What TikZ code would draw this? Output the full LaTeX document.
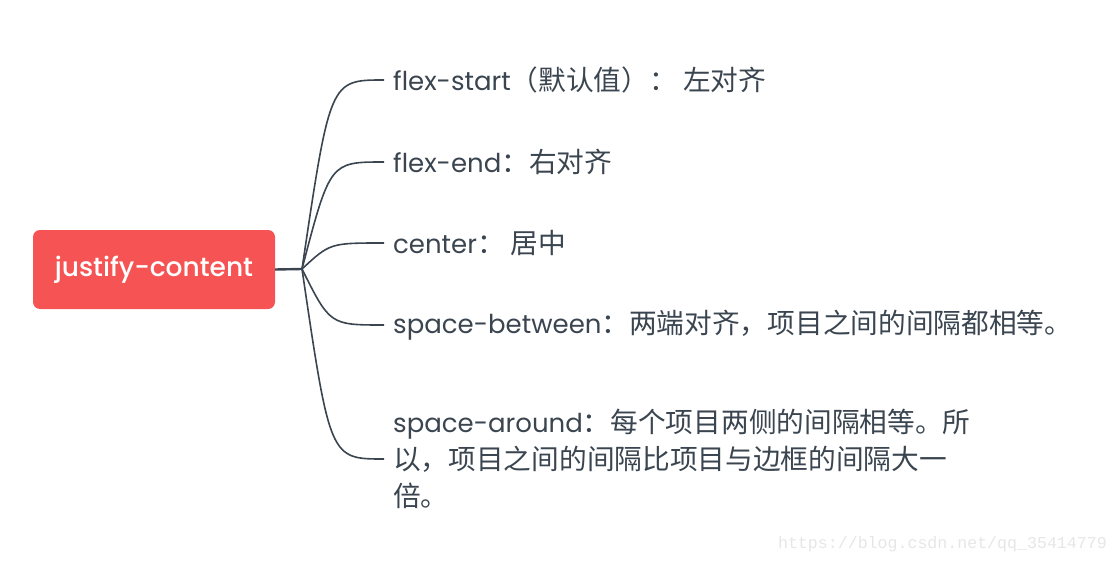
\documentclass[tikz,border=0pt]{standalone}
\usepackage{fontspec}
\setmainfont{Poppins}
\newfontfamily\rootfont{Poppins Medium}
\newfontfamily\cjk{Noto Sans CJK SC}[Scale=1.065]
\newfontfamily\markfont{Liberation Mono}
\usepackage{xcolor}
\definecolor{cRoot}{HTML}{F65454}
\definecolor{cText}{HTML}{3A4550}
\definecolor{cLine}{HTML}{3A4550}
\definecolor{cMark}{HTML}{E6E6E6}
\usetikzlibrary{calc}
\tikzset{
  node-root/.style={fill=cRoot,rounded corners=7pt,minimum width=242pt,
    minimum height=79pt,inner sep=0pt,text=white,
    font=\rootfont\fontsize{26.5}{30}\selectfont},
  node-item/.style={anchor=west,align=left,text=cText,inner xsep=9pt,
    inner ysep=0pt,font=\fontsize{26}{37}\selectfont},
  node-mark/.style={anchor=east,inner sep=0pt,text=cMark,
    font=\markfont\fontsize{16.6}{20}\selectfont},
  link/.style={draw=cLine,line width=1.6pt},
  link-stub/.style={draw=cLine,line width=2.4pt},
}

\begin{document}
\begin{tikzpicture}[x=1pt,y=-1pt]
  \useasboundingbox (0,0) rectangle (1118,564);
  \node[node-root] (root) at (154,269.5) {justify-content};
  \coordinate (j) at (302,269);
  \node[node-item] (i-start)   at (384,80)  {flex-start{\cjk（默认值）： 左对齐}};
  \node[node-item] (i-end)     at (384,162) {flex-end{\cjk：右对齐}};
  \node[node-item] (i-center)  at (384,243) {center{\cjk： 居中}};
  \node[node-item] (i-between) at (384,325) {space-between{\cjk：两端对齐，项目之间的间隔都相等。}};
  \node[node-item] (i-around)  at (384,459) {space-around{\cjk：每个项目两侧的间隔相等。所}\\
    {\cjk 以，项目之间的间隔比项目与边框的间隔大一}\\{\cjk 倍。}};
  \draw[link-stub] (root.east) -- (j);
  \foreach \n in {i-start,i-end,i-center,i-between,i-around}
    \draw[link] (j) .. controls ($(j |- \n.west)+(28,0)$) .. (\n.west);
  \node[node-mark] (mark) at (1107,544) {https://blog.csdn.net/qq\_35414779};
\end{tikzpicture}
\end{document}
